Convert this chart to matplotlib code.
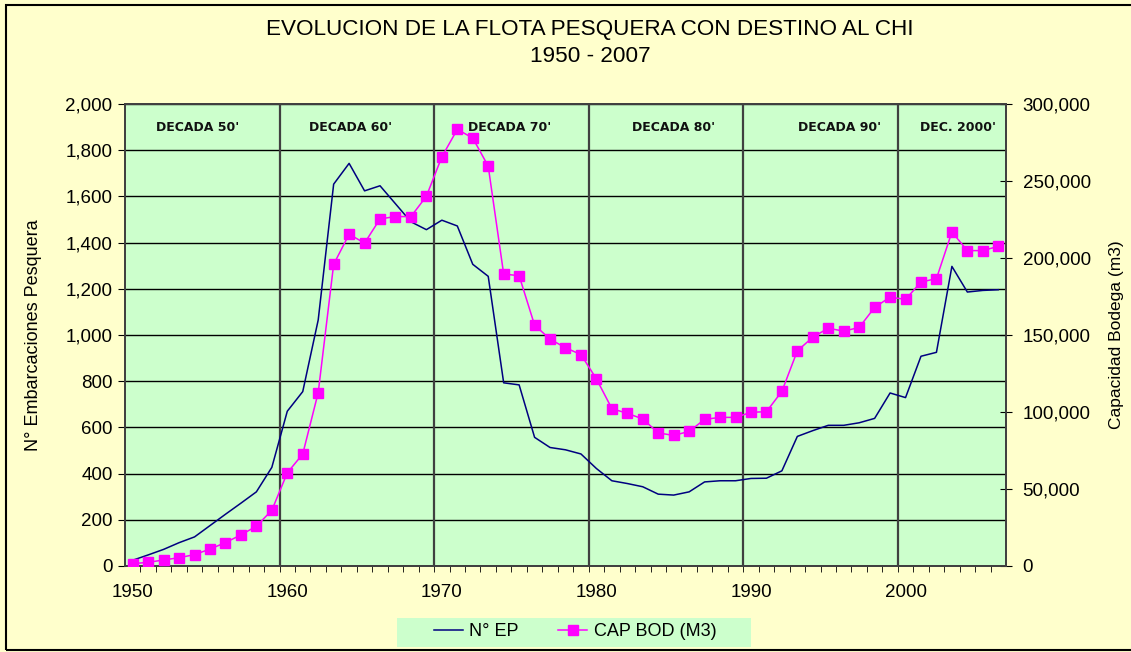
import matplotlib.pyplot as plt
from matplotlib.ticker import FuncFormatter, MultipleLocator
from matplotlib.patches import Rectangle

# ---------- data ----------
years = list(range(1950, 2007))
n_ep = [25, 48, 72, 101, 126, 175, 224, 272, 321, 427,
        670, 755, 1065, 1653, 1743, 1624, 1646, 1568, 1490, 1456,
        1497, 1472, 1306, 1254, 793, 784, 557, 513, 503, 485,
        422, 369, 357, 343, 311, 307, 321, 364, 369, 369,
        379, 380, 412, 561, 586, 609, 609, 620, 639, 749,
        729, 908, 925, 1297, 1186, 1193, 1196]
cap_bod = [1500, 2400, 3900, 5400, 7400, 11000, 15200, 20200, 25800, 36200,
           60500, 72700, 112600, 195900, 215400, 209700, 225400, 226900, 226900, 240100,
           265700, 283500, 277900, 259600, 189600, 188500, 156400, 147300, 141700, 137300,
           121500, 102200, 99100, 95500, 86400, 84800, 87400, 95200, 96500, 96500,
           99800, 100200, 113400, 139700, 148600, 154400, 152500, 154900, 167900, 174600,
           173100, 184400, 186600, 216900, 204800, 204800, 207600]

decade_labels = ["DECADA 50'", "DECADA 60'", "DECADA 70'", "DECADA 80'", "DECADA 90'", "DEC. 2000'"]
decade_label_x = [1954.2, 1964.1, 1974.4, 1985.0, 1995.7, 2003.4]
tick_years = [1950, 1960, 1970, 1980, 1990, 2000]

plt.rcParams['font.family'] = ['Liberation Sans', 'DejaVu Sans']

fig = plt.figure(figsize=(11.31, 6.52), dpi=100)
fig.patch.set_facecolor('#FFFFCC')
# outer border of the chart area
fig.patches.append(Rectangle((6 / 1131, 2 / 652), 1.1, 645 / 652, transform=fig.transFigure,
                             fill=False, edgecolor='black', linewidth=1.5))
# legend background box
fig.patches.append(Rectangle((397 / 1131, 1 - 647 / 652), 354 / 1131, 29 / 652,
                             transform=fig.transFigure, facecolor='#CCFFCC',
                             edgecolor='none'))

ax = fig.add_axes([125 / 1131, (652 - 566) / 652, 881 / 1131, 462 / 652])
ax.set_facecolor('#CCFFCC')
ax2 = ax.twinx()

# ---------- N° EP (left axis) ----------
ax.plot(years, n_ep, color='#000080', linewidth=1.1, zorder=3)
ax.set_ylim(0, 2000)
ax.set_xlim(1949.5, 2006.5)
ax.yaxis.set_major_locator(MultipleLocator(200))
ax.yaxis.set_major_formatter(FuncFormatter(lambda v, p: f"{int(v):,}"))
ax.grid(axis='y', color='black', linewidth=1)
ax.set_axisbelow(True)
for y0 in tick_years[1:]:
    ax.axvline(y0 - 0.5, color='#404040', linewidth=1.6, zorder=1)

ax.set_xticks(tick_years)
ax.set_xticklabels([str(y) for y in tick_years])
ax.tick_params(axis='x', length=0, pad=13, labelsize=13.5)
ax.set_xticks([y - 0.5 for y in years[1:]], minor=True)
ax.tick_params(axis='x', which='minor', length=4, direction='out', color='black')
ax.tick_params(axis='y', length=5, direction='out', labelsize=13.5, pad=4)
ax.set_ylabel("N° Embarcaciones Pesquera", fontsize=13, labelpad=17)

for lbl, xpos in zip(decade_labels, decade_label_x):
    ax.text(xpos, 1900, lbl, ha='center', va='center', fontsize=9, fontweight='bold',
            family='DejaVu Sans', color='#111111')

# ---------- CAP BOD (right axis) ----------
ax2.plot(years, cap_bod, color='#FF00FF', linewidth=1.1, marker='s', markersize=6.5,
         markeredgecolor='#FF00FF', markerfacecolor='#FF00FF', zorder=4)
ax2.set_ylim(0, 300000)
ax2.yaxis.set_major_locator(MultipleLocator(50000))
ax2.yaxis.set_major_formatter(FuncFormatter(lambda v, p: f"{int(v):,}"))
ax2.tick_params(axis='y', length=8, direction='inout', labelsize=13.5, pad=8)
ax2.set_ylabel("Capacidad Bodega (m3)", fontsize=12.5, labelpad=13)

for a in (ax, ax2):
    for s in a.spines.values():
        s.set_color('#404040')
        s.set_linewidth(1.3)

# ---------- title ----------
fig.text(590 / 1131, 1 - 30 / 652, "EVOLUCION DE LA FLOTA PESQUERA CON DESTINO AL CHI",
         ha='center', va='center', fontsize=16.2)
fig.text(590 / 1131, 1 - 56 / 652, "1950 - 2007", ha='center', va='center', fontsize=16.2)

# ---------- legend ----------
h1 = ax.lines[0]
h2 = ax2.lines[0]
leg = fig.legend([h1, h2], ["N° EP", "CAP BOD (M3)"], loc='center',
                 bbox_to_anchor=(575 / 1131, 1 - 632 / 652), ncol=2, frameon=False,
                 fontsize=13, handlelength=1.6, handletextpad=0.35, columnspacing=2.2,
                 borderpad=0.2)

fig.savefig("out.png", dpi=100, facecolor=fig.get_facecolor())
